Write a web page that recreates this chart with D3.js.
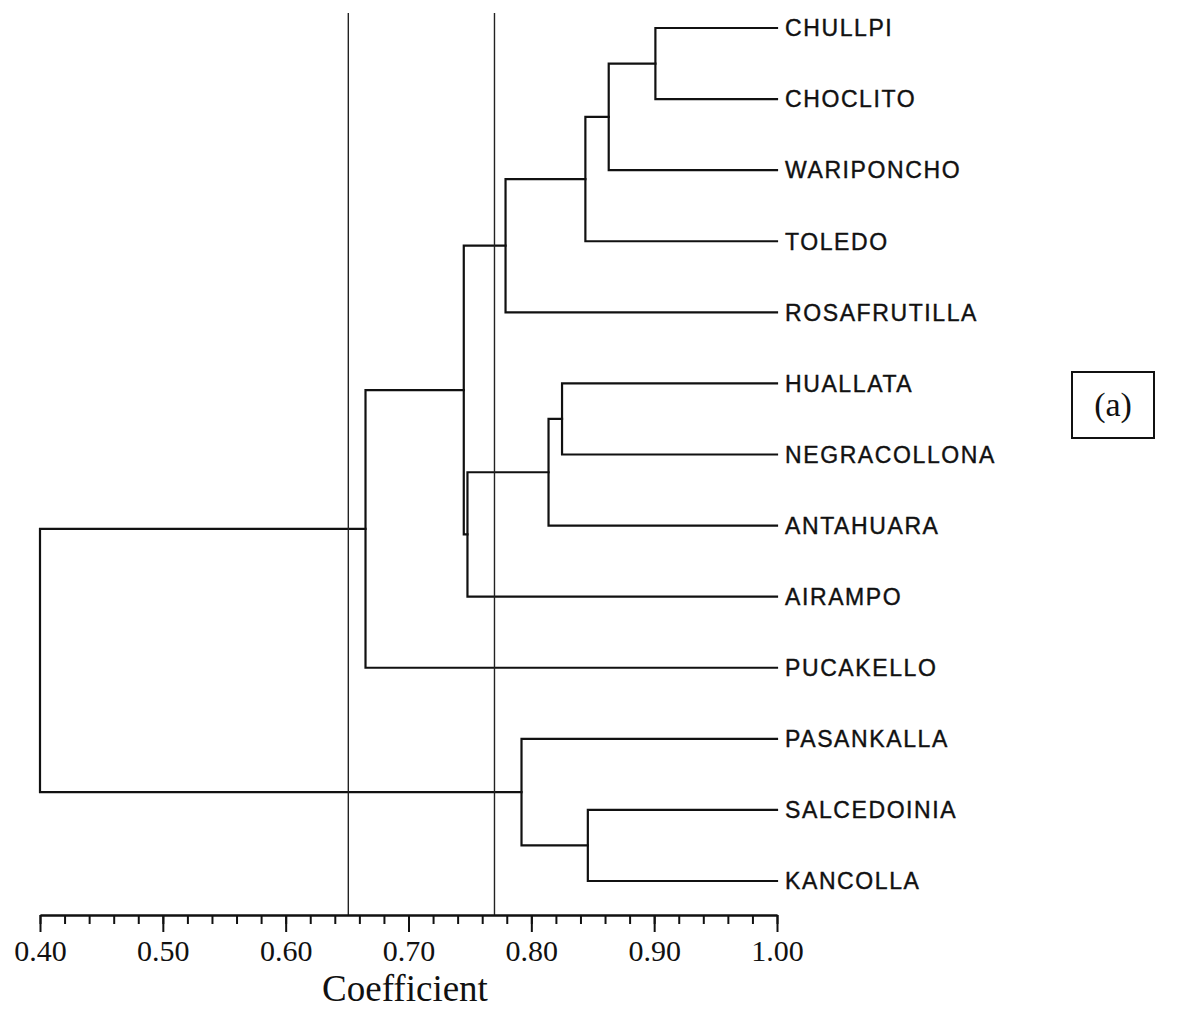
<!DOCTYPE html>
<html>
<head>
<meta charset="utf-8">
<script src="https://d3js.org/d3.v7.min.js"></script>
<style>
  body { margin: 0; background: #fff; }
  .leaf { font-family: "Liberation Sans", Arial, sans-serif; font-size: 23px; letter-spacing: 1.6px; fill: #111; stroke: #111; stroke-width: 0.4px; }
  .tick text { font-family: "Liberation Serif", "Times New Roman", serif; font-size: 30px; fill: #111; }
  .axis path, .axis line { stroke: #111; stroke-width: 2px; }
</style>
</head>
<body>
<div id="chart"></div>
<script>
// leaves in display order, top to bottom
var leaves = ['CHULLPI', 'CHOCLITO', 'WARIPONCHO', 'TOLEDO', 'ROSAFRUTILLA',
              'HUALLATA', 'NEGRACOLLONA', 'ANTAHUARA', 'AIRAMPO', 'PUCAKELLO',
              'PASANKALLA', 'SALCEDOINIA', 'KANCOLLA']

// merges: [left, right, coefficient]; "n<i>" refers to the i-th merge
var merges = [
    ['CHULLPI', 'CHOCLITO', 0.901],   // n0
    ['n0', 'WARIPONCHO', 0.863],      // n1
    ['n1', 'TOLEDO', 0.844],          // n2
    ['n2', 'ROSAFRUTILLA', 0.779],    // n3
    ['HUALLATA', 'NEGRACOLLONA', 0.825], // n4
    ['n4', 'ANTAHUARA', 0.814],       // n5
    ['n5', 'AIRAMPO', 0.748],         // n6
    ['n3', 'n6', 0.745],              // n7
    ['n7', 'PUCAKELLO', 0.665],       // n8
    ['SALCEDOINIA', 'KANCOLLA', 0.846], // n9
    ['PASANKALLA', 'n9', 0.792],      // n10
    ['n8', 'n10', 0.40]               // n11 (root)
]

var cutoffs = [0.651, 0.770]
var majorTicks = [0.40, 0.50, 0.60, 0.70, 0.80, 0.90, 1.00]
var majorLabels = ['0.40', '0.50', '0.60', '0.70', '0.80', '0.90', '1.00']
var xTitle = 'Coefficient'
var panelTag = '(a)'

var svg = d3.select('#chart').append('svg')
    .attr('width', 1188)
    .attr('height', 1011)

svg.append('rect').attr('width', 1188).attr('height', 1011).attr('fill', '#fff')

var xs = d3.scaleLinear().domain([0.40, 1.00]).range([40, 777])
var ys = d3.scalePoint().domain(leaves).range([28, 881])
var axisY = 915

// node positions
var pos = {}
leaves.forEach(function(l) { pos[l] = { x: xs(1.00), y: ys(l) } })

var g = svg.append('g')
    .attr('fill', 'none')
    .attr('stroke', '#111')
    .attr('stroke-width', 2.2)
    .attr('stroke-linecap', 'square')

merges.forEach(function(m, i) {
    var a = pos[m[0]], b = pos[m[1]]
    var x = xs(m[2])
    g.append('path')
        .attr('d', 'M' + a.x + ',' + a.y + 'H' + x + 'V' + b.y + 'H' + b.x)
    pos['n' + i] = { x: x, y: (a.y + b.y) / 2 }
})

// reference cut lines
svg.selectAll('.cut')
    .data(cutoffs)
    .enter()
    .append('line')
    .attr('class', 'cut')
    .attr('x1', function(d) { return xs(d) })
    .attr('x2', function(d) { return xs(d) })
    .attr('y1', 13)
    .attr('y2', axisY)
    .attr('stroke', '#222')
    .attr('stroke-width', 1.4)

// leaf labels
svg.selectAll('.leaf')
    .data(leaves)
    .enter()
    .append('text')
    .attr('class', 'leaf')
    .attr('x', xs(1.00) + 8)
    .attr('y', function(d) { return ys(d) })
    .attr('dy', '0.36em')
    .text(function(d) { return d })

// axis: minor ticks then major ticks with labels
var minorTicks = d3.range(0.40, 1.001, 0.02)
svg.append('g')
    .attr('class', 'axis')
    .attr('transform', 'translate(0,' + axisY + ')')
    .call(d3.axisBottom(xs).tickValues(minorTicks).tickSize(9).tickSizeOuter(0).tickFormat(''))

svg.append('g')
    .attr('class', 'axis')
    .attr('transform', 'translate(0,' + axisY + ')')
    .call(d3.axisBottom(xs).tickValues(majorTicks).tickSize(17).tickSizeOuter(0).tickPadding(8)
        .tickFormat(function(d, i) { return majorLabels[i] }))

svg.append('text')
    .attr('x', 405)
    .attr('y', 1001)
    .attr('text-anchor', 'middle')
    .style('font-family', '"Liberation Serif", "Times New Roman", serif')
    .style('font-size', '37px')
    .attr('fill', '#111')
    .text(xTitle)

// panel tag box
svg.append('rect')
    .attr('x', 1072)
    .attr('y', 372)
    .attr('width', 82)
    .attr('height', 66)
    .attr('fill', 'none')
    .attr('stroke', '#111')
    .attr('stroke-width', 2)

svg.append('text')
    .attr('x', 1113)
    .attr('y', 416)
    .attr('text-anchor', 'middle')
    .style('font-family', '"Liberation Serif", "Times New Roman", serif')
    .style('font-size', '34px')
    .attr('fill', '#111')
    .text(panelTag)
</script>
</body>
</html>
